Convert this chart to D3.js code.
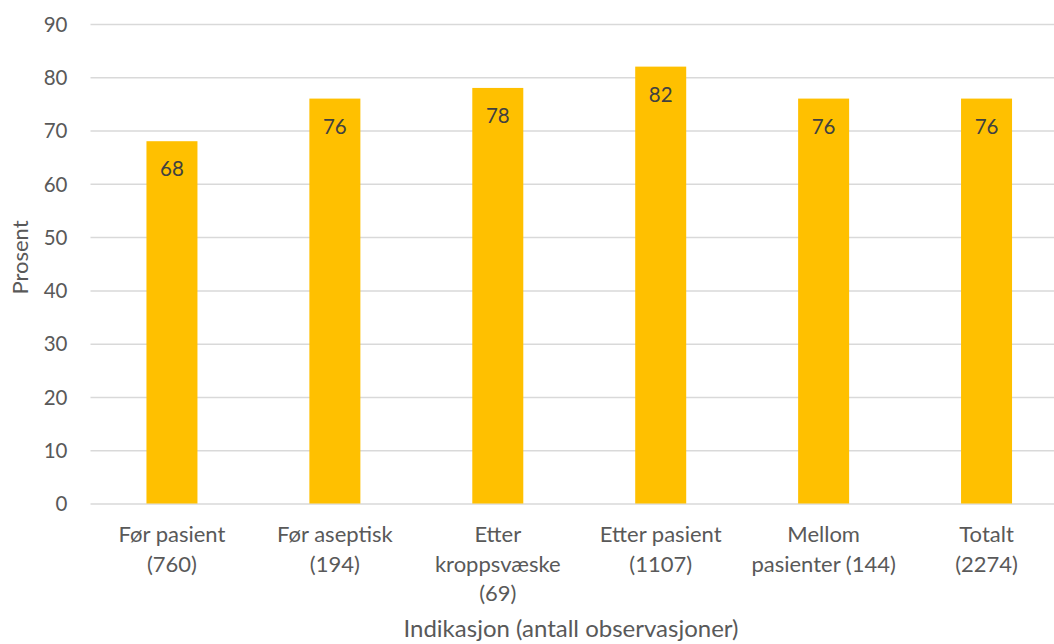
<!DOCTYPE html>
<html><head><meta charset="utf-8">
<script src="https://cdn.jsdelivr.net/npm/d3@7"></script>
<style>body{margin:0;background:#fff}svg{display:block}text{font-family:Lato,"Noto Sans",sans-serif}</style>
</head><body>
<svg id="c" width="1054" height="644"></svg>
<script>
const categories = [["Før pasient","(760)"],["Før aseptisk","(194)"],["Etter","kroppsvæske","(69)"],["Etter pasient","(1107)"],["Mellom","pasienter (144)"],["Totalt","(2274)"]];
const values = [68, 76, 78, 82, 76, 76];
const yTicks = [0,10,20,30,40,50,60,70,80,90];
const yTitle = "Prosent";
const xTitle = "Indikasjon (antall observasjoner)";

(function(){
const svg = d3.select("#c");
const mL = 90.5, mR = 1068, mT = 24, mB = 503.5;
const x = d3.scaleBand().domain(d3.range(categories.length)).range([mL, mR]).paddingInner(0.686).paddingOuter(0.343);
const y = d3.scaleLinear().domain([0, 90]).range([mB, mT]);

const g = svg.append("g");
const yAxis = d3.axisLeft(y).tickValues(yTicks).tickSize(-(mR-mL)).tickPadding(23);
const ya = g.append("g").attr("transform", `translate(${mL},0)`).call(yAxis);
ya.select(".domain").remove();
ya.selectAll("line").attr("stroke", "#d9d9d9").attr("stroke-width", 1.5);
ya.selectAll("text").attr("fill", "#595959").style("font-size", "20.5px").attr("dy", "0.35em");

const bw = 51;
g.selectAll("rect.bar").data(values).join("rect")
  .attr("x", (d,i) => x(i) + x.bandwidth()/2 - bw/2)
  .attr("width", bw)
  .attr("y", d => y(d))
  .attr("height", d => y(0) - y(d))
  .attr("fill", "#ffc000");

g.selectAll("text.val").data(values).join("text")
  .attr("x", (d,i) => x(i) + x.bandwidth()/2)
  .attr("y", d => y(d) + 35)
  .attr("text-anchor", "middle")
  .attr("fill", "#404040")
  .style("font-size", "20.5px")
  .text(d => d);

const xa = g.append("g");
categories.forEach((lines, i) => {
  const t = xa.append("text").attr("text-anchor", "middle").attr("fill", "#595959").style("font-size", "22px");
  lines.forEach((l, j) => t.append("tspan").attr("x", x(i) + x.bandwidth()/2).attr("y", 542 + j*29.5).text(l));
});

svg.append("text").attr("x", 571).attr("y", 637).attr("text-anchor", "middle").attr("fill", "#595959").style("font-size", "24px").text(xTitle);
svg.append("text").attr("transform", "translate(28,257.5) rotate(-90)").attr("text-anchor", "middle").attr("fill", "#595959").style("font-size", "22px").text(yTitle);
})();
</script>
</body></html>
